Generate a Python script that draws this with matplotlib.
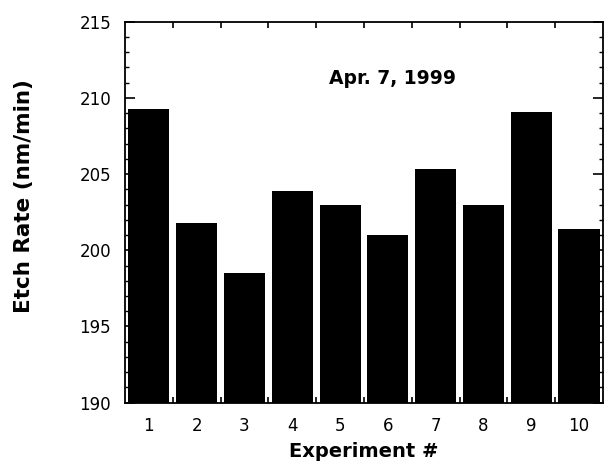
import matplotlib
matplotlib.use("Agg")
import matplotlib.pyplot as plt
from matplotlib.ticker import MultipleLocator, FixedLocator

experiments = [1, 2, 3, 4, 5, 6, 7, 8, 9, 10]
etch_rate = [209.3, 201.8, 198.5, 203.9, 203.0, 201.0, 205.3, 203.0, 209.1, 201.4]
x_labels = ["1", "2", "3", "4", "5", "6", "7", "8", "9", "10"]
y_ticks = [190, 195, 200, 205, 210, 215]

plt.rcParams['font.family'] = ['DejaVu Sans']

fig = plt.figure(figsize=(6.05, 4.65), dpi=100)
ax = fig.add_axes([0.2066, 0.134, 0.79, 0.8195])

ax.bar(experiments, [v - 190 for v in etch_rate], bottom=190, width=0.86, color='black', edgecolor='none')

ax.set_xlim(0.5, 10.5)
ax.set_ylim(190, 215)
ax.set_yticks(y_ticks)
ax.yaxis.set_minor_locator(MultipleLocator(1))
ax.set_xticks(experiments)
ax.set_xticklabels(x_labels)
ax.xaxis.set_minor_locator(FixedLocator([i + 0.5 for i in experiments[:-1]]))

ax.tick_params(axis='x', which='major', length=0, pad=10, labelsize=12)
ax.tick_params(axis='x', which='minor', direction='in', length=4, width=1.2, top=True, bottom=True)
ax.tick_params(axis='y', which='major', direction='in', length=7, width=1.2, left=True, right=True, pad=10, labelsize=12)
ax.tick_params(axis='y', which='minor', direction='in', length=3, width=1.0, left=True, right=True)

for s in ax.spines.values():
    s.set_linewidth(1.3)

ax.set_ylabel('Etch Rate (nm/min)', fontsize=15.5, fontweight='bold')
ax.set_xlabel('Experiment #', fontsize=14, fontweight='bold')
ax.yaxis.label.set_va('center')
ax.xaxis.label.set_va('center')
ax.yaxis.set_label_coords(-0.212, 0.5425)
ax.xaxis.set_label_coords(0.5, -0.129)

ax.text(0.56, 0.852, 'Apr. 7, 1999', transform=ax.transAxes, ha='center', va='center',
        fontsize=13.5, fontweight='bold')

fig.savefig('out.png', dpi=100)
